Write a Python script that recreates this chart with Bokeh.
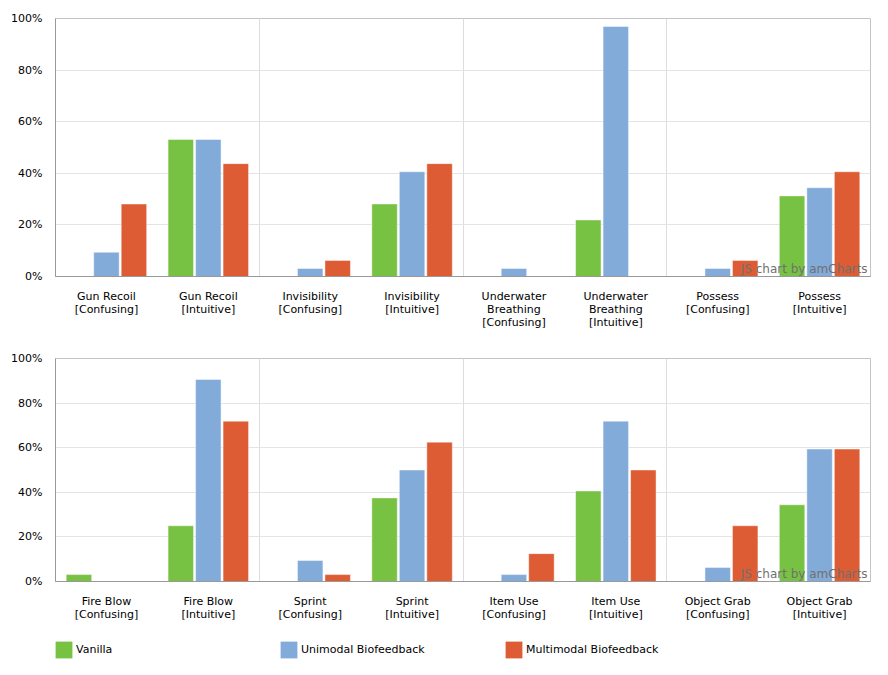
from bokeh.plotting import figure
from bokeh.models import (ColumnDataSource, FixedTicker, PrintfTickFormatter, Range1d,
                          Legend, LegendItem, Label)
from bokeh.layouts import column
from bokeh.transform import dodge
from bokeh.embed import file_html
from bokeh.resources import INLINE

# ---------------- data ----------------
series_names = ["Vanilla", "Unimodal Biofeedback", "Multimodal Biofeedback"]
series_colors = ["#77C243", "#83ABD9", "#DE5C33"]

top_labels = ["Gun Recoil\n[Confusing]", "Gun Recoil\n[Intuitive]",
              "Invisibility\n[Confusing]", "Invisibility\n[Intuitive]",
              "Underwater\nBreathing\n[Confusing]", "Underwater\nBreathing\n[Intuitive]",
              "Possess\n[Confusing]", "Possess\n[Intuitive]"]
top_vanilla = [0.0, 53.1, 0.0, 28.1, 0.0, 21.9, 0.0, 31.25]
top_unimodal = [9.4, 53.1, 3.1, 40.6, 3.1, 96.9, 3.1, 34.4]
top_multimodal = [28.1, 43.75, 6.25, 43.75, 0.0, 0.0, 6.25, 40.6]

bot_labels = ["Fire Blow\n[Confusing]", "Fire Blow\n[Intuitive]",
              "Sprint\n[Confusing]", "Sprint\n[Intuitive]",
              "Item Use\n[Confusing]", "Item Use\n[Intuitive]",
              "Object Grab\n[Confusing]", "Object Grab\n[Intuitive]"]
bot_vanilla = [3.1, 25.0, 0.0, 37.5, 0.0, 40.6, 0.0, 34.4]
bot_unimodal = [0.0, 90.6, 9.4, 50.0, 3.1, 71.9, 6.25, 59.4]
bot_multimodal = [0.0, 71.9, 3.1, 62.5, 12.5, 50.0, 25.0, 59.4]

y_ticks = [0, 20, 40, 60, 80, 100]

FONT = "DejaVu Sans"
W = 880


def make_chart(labels, v, u, m, height, border_top, border_bottom):
    n = len(labels)
    centers = [i + 0.5 for i in range(n)]
    src = ColumnDataSource(dict(x=centers, v=v, u=u, m=m))
    p = figure(width=W, height=height, output_backend="svg", toolbar_location=None,
               x_range=Range1d(0, n), y_range=Range1d(0, 100),
               min_border_left=55, min_border_right=10,
               min_border_top=border_top, min_border_bottom=border_bottom)
    p.background_fill_color = "white"
    p.border_fill_color = "white"
    p.outline_line_color = "#c4c4c4"
    p.outline_line_width = 1

    renderers = []
    offsets = [-0.27, 0.0, 0.27]
    for col, off, color in zip(["v", "u", "m"], offsets, series_colors):
        r = p.vbar(x=dodge("x", off, range=p.x_range), top=col, width=0.25, source=src,
                   fill_color=color, line_color="white", line_alpha=0.45, line_width=1)
        renderers.append(r)

    # x axis
    p.xaxis.ticker = FixedTicker(ticks=centers)
    p.xaxis.major_label_overrides = {c: lab for c, lab in zip(centers, labels)}
    p.xaxis.major_tick_line_color = None
    p.xaxis.minor_tick_line_color = None
    p.xaxis.major_tick_out = 0
    p.xaxis.major_tick_in = 0
    p.xaxis.minor_tick_out = 0
    p.xaxis.axis_line_color = "#999999"
    p.xaxis.major_label_text_font = FONT
    p.xaxis.major_label_text_font_size = "11px"
    p.xaxis.major_label_text_color = "#000000"
    p.xaxis.major_label_text_line_height = 1.0
    p.xaxis.major_label_standoff = 13

    # y axis
    p.yaxis.ticker = FixedTicker(ticks=y_ticks)
    p.yaxis.formatter = PrintfTickFormatter(format="%d%%")
    p.yaxis.major_tick_line_color = None
    p.yaxis.minor_tick_line_color = None
    p.yaxis.major_tick_out = 0
    p.yaxis.major_tick_in = 0
    p.yaxis.minor_tick_out = 0
    p.yaxis.axis_line_color = "#999999"
    p.yaxis.major_label_text_font = FONT
    p.yaxis.major_label_text_font_size = "11px"
    p.yaxis.major_label_text_color = "#000000"
    p.yaxis.major_label_standoff = 13

    # grids
    p.xgrid.ticker = FixedTicker(ticks=[2, 4, 6])
    p.xgrid.grid_line_color = "#dddddd"
    p.ygrid.ticker = FixedTicker(ticks=y_ticks[1:-1])
    p.ygrid.grid_line_color = "#e4e4e4"

    wm = Label(x=n, y=0, text="JS chart by amCharts", text_align="right",
               text_baseline="bottom", x_offset=-3, y_offset=1,
               text_font=FONT, text_font_size="12px", text_color="#707070")
    p.add_layout(wm)
    return p, renderers


p1, _ = make_chart(top_labels, top_vanilla, top_unimodal, top_multimodal,
                   height=340, border_top=18, border_bottom=64)
p2, _ = make_chart(bot_labels, bot_vanilla, bot_unimodal, bot_multimodal,
                   height=290, border_top=18, border_bottom=49)

# legend strip (swatch renderers sit outside the visible range; only their legend glyphs show)
p3 = figure(width=W, height=45, output_backend="svg", toolbar_location=None,
            x_axis_location=None, y_axis_location=None,
            min_border_left=55, min_border_right=10, min_border_top=0, min_border_bottom=0,
            x_range=Range1d(0, 1), y_range=Range1d(0, 1))
p3.outline_line_color = None
p3.grid.visible = False
p3.background_fill_color = "white"
p3.border_fill_color = "white"
swatch = ColumnDataSource(dict(x=[-5.0], y=[-5.0]))
legend_rends = [p3.rect(x="x", y="y", width=0.1, height=0.1, source=swatch,
                        fill_color=c, line_color=None) for c in series_colors]
legend = Legend(items=[LegendItem(label=nm, renderers=[r]) for nm, r in zip(series_names, legend_rends)],
                orientation="horizontal", location=(-2, 15),
                glyph_width=21, glyph_height=21, label_standoff=2, label_width=202,
                spacing=0, padding=0, margin=0,
                border_line_color=None, background_fill_alpha=0,
                label_text_font=FONT, label_text_font_size="11px", label_text_color="#000000")
p3.add_layout(legend)

layout = column(p1, p2, p3, spacing=0)

open("out.html", "w").write(file_html(layout, INLINE))
